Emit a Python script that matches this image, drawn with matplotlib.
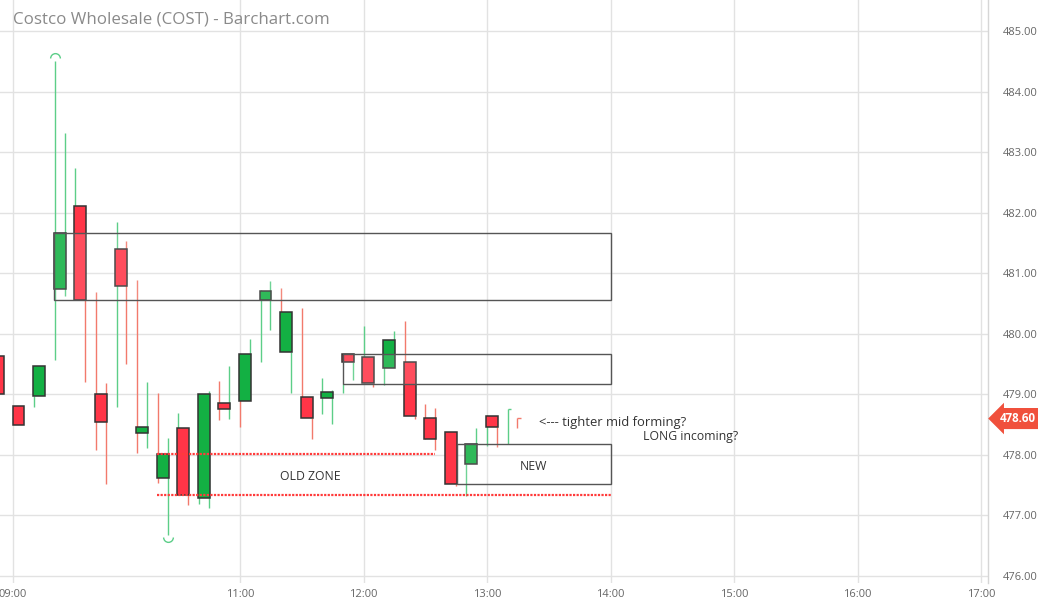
import numpy as np
import matplotlib.pyplot as plt
from matplotlib.path import Path

plt.rcParams['font.family'] = ['Open Sans', 'DejaVu Sans']

# 10-minute bars, minutes relative to 11:00
BAR_MIN = [-120, -110, -100, -90, -80, -70, -60, -50, -40, -30, -20, -10, 0,
           10, 20, 30, 40, 50, 60, 70, 80, 90, 100, 110, 120, 130]
OPENS = [479.63, 478.81, 478.97, 480.74, 482.11, 479.01, 481.40, 478.36, 477.62,
         478.44, 477.29, 478.86, 478.89, 480.56, 479.70, 478.96, 478.94, 479.67,
         479.62, 479.44, 479.53, 478.61, 478.38, 477.85, 478.64, np.nan]
CLOSES = [479.01, 478.49, 479.47, 481.66, 480.56, 478.54, 480.79, 478.46, 478.02,
          477.34, 479.01, 478.76, 479.67, 480.71, 480.36, 478.61, 479.04, 479.53,
          479.19, 479.90, 478.64, 478.26, 477.52, 478.18, 478.46, np.nan]

# wick segments drawn at left and right edge of each bar
LEFT_LO = [np.nan, np.nan, 478.79, 479.57, 482.11, 478.08, 478.79, 478.03, 477.54,
           478.43, 477.19, 478.58, 478.46, 479.53, 480.36, 478.96, 478.68, 479.02,
           479.62, 479.15, 479.53, 478.26, np.nan, 477.32, 478.15, 478.18]
LEFT_HI = [np.nan, np.nan, 478.97, 484.50, 482.74, 480.69, 481.85, 480.89, 479.02,
           478.69, 477.34, 479.22, 478.91, 480.72, 480.76, 480.43, 479.27, 479.17,
           480.13, 479.45, 480.21, 478.84, np.nan, 477.85, 478.66, 478.76]
LEFT_UP = [1, 1, 1, 1, 1, 0, 1, 0, 0, 1, 1, 0, 0, 1, 0, 0, 1, 1, 1, 1, 0, 0, 0, 1, 1, 1]
RIGHT_LO = [np.nan, np.nan, np.nan, 480.62, 479.20, 477.52, 479.50, 478.11, 476.68,
            477.17, 477.12, 478.59, 479.65, 480.06, 479.02, 478.26, 478.51, 479.24,
            479.12, 479.90, 478.59, 478.08, 477.49, 478.18, 478.13, 478.44]
RIGHT_HI = [np.nan, np.nan, np.nan, 483.32, 480.56, 479.19, 481.53, 479.20, 478.28,
            477.34, 479.06, 479.47, 479.91, 480.87, 479.70, 478.61, 479.07, 479.53,
            479.19, 480.05, 478.64, 478.77, 477.52, 478.44, 478.46, 478.61]
RIGHT_UP = [0, 0, 0, 1, 0, 0, 0, 1, 1, 0, 1, 1, 1, 1, 1, 0, 1, 1, 0, 1, 0, 0, 0, 1, 0, 0]

# zones: (x0, x1, low, high)
BIG_ZONE = (-90.5, 180, 480.56, 481.66)
MID_ZONE = (50, 180, 479.17, 479.67)
NEW_ZONE = (105.4, 180, 477.52, 478.18)
OLD_TOP = (-40.3, 94.8, 478.02)
OLD_BOT = (-40.3, 180, 477.33)

LAST_PRICE = 478.60
HIGH_MARK = (-90, 484.55)
LOW_MARK = (-35.2, 476.64)

XTICKS = [-110.3, 0, 60, 120, 180, 240, 300, 360]
XLABELS = ['09:00', '11:00', '12:00', '13:00', '14:00', '15:00', '16:00', '17:00']
YTICKS = [476, 477, 478, 479, 480, 481, 482, 483, 484, 485]

GREEN = '#13b043'
RED = '#ff3547'
GREEN_W = '#5cce88'
RED_W = '#f27a6c'

fig = plt.figure(figsize=(10.38, 6.02), dpi=100)
ax = fig.add_axes([0, 19 / 602, 988 / 1038, 583 / 602])

ax.set_xlim(-116.6, 363.4)
ax.set_ylim(475.884, 485.512)

ax.set_yticks(YTICKS)
ax.set_yticklabels(['%.2f' % v for v in YTICKS])
ax.yaxis.tick_right()
ax.set_xticks(XTICKS)
ax.set_xticklabels(XLABELS)
ax.tick_params(axis='both', length=0, colors='#666666', labelsize=8)
ax.tick_params(axis='y', pad=11)
ax.tick_params(axis='x', pad=4)
ax.grid(True, color='#e2e2e2', linewidth=1.0)
ax.set_axisbelow(True)
for s in ['top', 'left', 'bottom']:
    ax.spines[s].set_visible(False)
ax.spines['right'].set_color('#d6d6d6')
ax.spines['right'].set_linewidth(1.0)

t = np.array(BAR_MIN, dtype=float)
o = np.array(OPENS)
c = np.array(CLOSES)

# wicks
for x_off, lo, hi, up in [(0.0, LEFT_LO, LEFT_HI, LEFT_UP), (4.8, RIGHT_LO, RIGHT_HI, RIGHT_UP)]:
    cols = [GREEN_W if u else RED_W for u in up]
    ax.vlines(t + x_off, lo, hi, colors=cols, linewidth=1.0, zorder=2)

# tiny close ticks on the still forming bar
last = len(BAR_MIN) - 1
ax.hlines([LEFT_HI[last]], t[last], t[last] + 1.6, colors=GREEN_W, linewidth=1.0, zorder=2)
ax.hlines([RIGHT_HI[last]], t[last] + 4.8, t[last] + 6.4, colors=RED_W, linewidth=1.0, zorder=2)

# bodies
body_cols = [GREEN if cc > oo else RED for oo, cc in zip(o, c)]
ax.bar(t - 0.5, np.abs(c - o), bottom=np.minimum(o, c), width=5.8, align='edge',
       color=body_cols, edgecolor='#333333', linewidth=1.1, zorder=3)

# high / low markers
top_arc = Path.arc(0, 180)
bot_arc = Path.arc(180, 360)
ax.plot([HIGH_MARK[0]], [HIGH_MARK[1]], marker=top_arc, markersize=7, color=GREEN_W,
        markerfacecolor='none', markeredgewidth=1.0, linestyle='none', zorder=4)
ax.plot([LOW_MARK[0]], [LOW_MARK[1]], marker=bot_arc, markersize=7, color=GREEN_W,
        markerfacecolor='none', markeredgewidth=1.0, linestyle='none', zorder=4)

# zones
for x0, x1, lo, hi in [BIG_ZONE, MID_ZONE, NEW_ZONE]:
    ax.add_patch(plt.Rectangle((x0, lo), x1 - x0, hi - lo, facecolor=(1, 1, 1, 0.12),
                               edgecolor='#555555', linewidth=1.0, zorder=5))

for x0, x1, y in [OLD_TOP, OLD_BOT]:
    ax.plot([x0, x1], [y, y], color='#ff3b3b', linewidth=1.6,
            linestyle=(0, (1, 0.6)), zorder=5)

ax.text(34, 477.64, 'OLD ZONE', fontsize=8.8, color='#333333', ha='center', va='center', zorder=6)
ax.text(142.4, 477.80, 'NEW', fontsize=8.8, color='#333333', ha='center', va='center', zorder=6)
ax.text(145.3, 478.54, '<--- tighter mid forming?', fontsize=9.4, color='#333333',
        ha='left', va='center', zorder=6)
ax.text(195.8, 478.31, 'LONG incoming?', fontsize=8.8, color='#333333',
        ha='left', va='center', zorder=6)

# last price tag
ax.text(1.012, LAST_PRICE, '%.2f' % LAST_PRICE, transform=ax.get_yaxis_transform(),
        fontsize=8.3, fontweight='bold', color='white', ha='left', va='center',
        bbox=dict(boxstyle='larrow,pad=0.35', facecolor='#f0503c', edgecolor='none'),
        zorder=10, clip_on=False)

fig.text(13 / 1038, 1 - 20 / 602, 'Costco Wholesale (COST) - Barchart.com',
         fontsize=12.2, color='#8a8a8a', ha='left', va='center')

fig.savefig('out.png', dpi=100)
